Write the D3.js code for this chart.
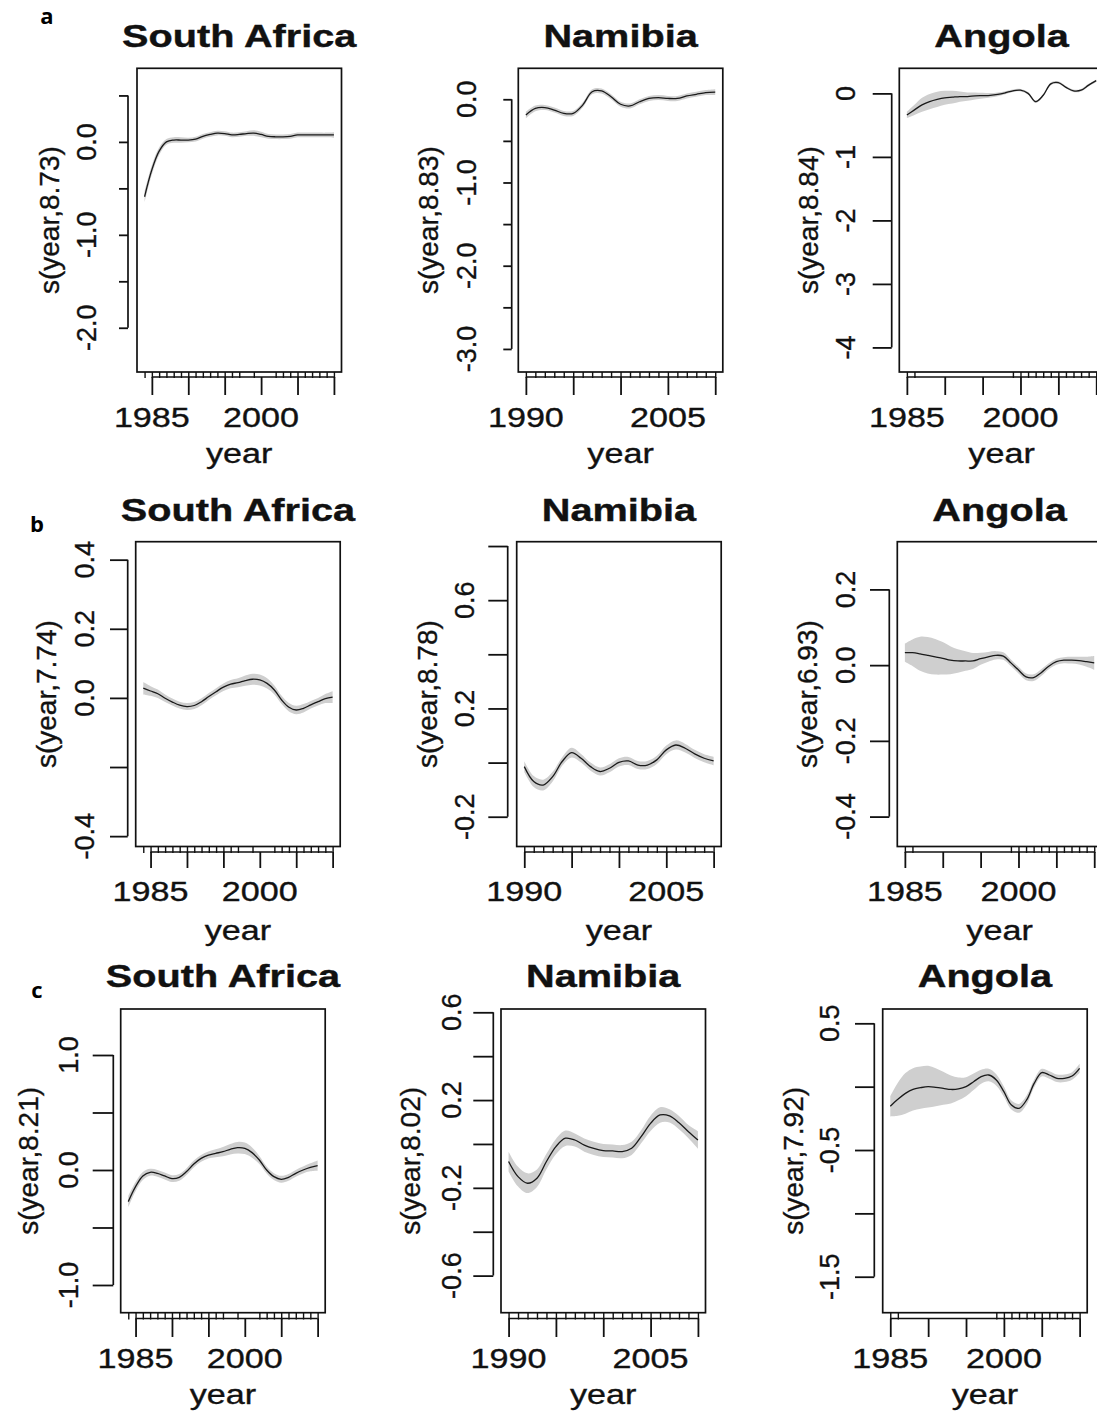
<!DOCTYPE html>
<html><head><meta charset="utf-8">
<script src="https://cdn.jsdelivr.net/npm/d3@7/dist/d3.min.js"></script>
<style>body{margin:0;background:#fff} svg{display:block}</style>
</head><body>
<script>
// ---------------- data ----------------
const saYears  = [1984,1985,1986,1987,1988,1989,1990,1991,1992,1993,1994,1995,1996,1997,1998,1999,2000,2001,2002,2003,2004,2005,2006,2007,2008,2009,2010];
const namYears = [1990,1991,1992,1993,1994,1995,1996,1997,1998,1999,2000,2001,2002,2003,2004,2005,2006,2007,2008,2009,2010];
const angYears = [1985,1986,1987,1988,1989,1990,1991,1992,1993,1994,1995,1996,1997,1998,1999,2000,2001,2002,2003,2004,2005,2006,2007,2008,2009,2010];

const saRug  = [1984,1985,1986,1987,1988,1989,1990,1991,1992,1993,1994,1995,1996,1997,1999,2002,2003,2004,2005,2006,2007,2008,2009,2010];
const namRug = [1990,1991,1992,1993,1994,1995,1996,1997,1998,1999,2000,2001,2002,2003,2004,2005,2006,2007,2008,2009,2010];
const angRug = [1985,1986,1999,2000,2001,2002,2003,2004,2005,2006,2007,2008,2009,2010];

const saXTicks  = [1985,1990,1995,2000,2005,2010];
const saXLabels = [1985,2000];
const namXTicks  = [1990,1995,2000,2005,2010];
const namXLabels = [1990,2005];
const angXTicks  = [1985,1990,1995,2000,2005,2010];
const angXLabels = [1985,2000];

const countries = ["South Africa","Namibia","Angola"];
const rowLetters = ["a","b","c"];

// row a
const aSaFit  = [-0.59,-0.30,-0.10,0.00,0.02,0.02,0.02,0.03,0.06,0.08,0.095,0.09,0.075,0.08,0.09,0.095,0.08,0.06,0.055,0.055,0.06,0.075,0.075,0.075,0.075,0.075,0.075];
const aSaBand = [0.06,0.05,0.04,0.03,0.03,0.03,0.025,0.025,0.025,0.025,0.025,0.025,0.025,0.025,0.025,0.03,0.03,0.025,0.025,0.025,0.025,0.025,0.025,0.025,0.025,0.025,0.03];
const aNamFit  = [-0.19,-0.11,-0.10,-0.13,-0.17,-0.17,-0.07,0.09,0.10,0.03,-0.06,-0.08,-0.03,0.01,0.02,0.01,0.01,0.04,0.06,0.08,0.085];
const aNamBand = [0.04,0.035,0.03,0.03,0.03,0.03,0.03,0.03,0.03,0.03,0.03,0.03,0.03,0.03,0.03,0.03,0.03,0.03,0.03,0.03,0.035];
const aAngFit  = [-0.34,-0.26,-0.18,-0.13,-0.095,-0.07,-0.06,-0.05,-0.05,-0.04,-0.035,-0.03,-0.015,0.01,0.04,0.05,0.0,-0.13,-0.03,0.15,0.17,0.095,0.04,0.05,0.13,0.20];
const aAngBand = [0.05,0.08,0.11,0.12,0.12,0.11,0.10,0.08,0.065,0.055,0.045,0.035,0.03,0.025,0.02,0.02,0.02,0.02,0.02,0.02,0.02,0.02,0.02,0.02,0.02,0.02];
// row b
const bSaFit  = [0.028,0.020,0.012,-0.001,-0.012,-0.021,-0.025,-0.022,-0.011,0.004,0.018,0.031,0.040,0.044,0.050,0.054,0.052,0.042,0.023,-0.006,-0.027,-0.035,-0.030,-0.020,-0.011,-0.002,0.002];
const bSaBand = [0.018,0.014,0.012,0.011,0.01,0.01,0.01,0.01,0.01,0.01,0.01,0.011,0.012,0.013,0.015,0.016,0.016,0.015,0.013,0.012,0.012,0.012,0.012,0.011,0.011,0.013,0.017];
const bNamFit  = [-0.015,-0.070,-0.083,-0.052,0.004,0.037,0.016,-0.015,-0.033,-0.021,0.001,0.006,-0.009,-0.009,0.010,0.047,0.065,0.053,0.032,0.016,0.006];
const bNamBand = [0.02,0.02,0.02,0.018,0.016,0.018,0.016,0.015,0.015,0.015,0.015,0.015,0.015,0.015,0.015,0.016,0.017,0.016,0.015,0.015,0.016];
const bAngFit  = [0.033,0.033,0.030,0.026,0.022,0.018,0.013,0.011,0.011,0.011,0.017,0.022,0.026,0.024,0.006,-0.013,-0.031,-0.033,-0.020,-0.003,0.009,0.013,0.013,0.012,0.009,0.006];
const bAngBand = [0.024,0.035,0.045,0.048,0.047,0.043,0.037,0.031,0.026,0.021,0.016,0.013,0.011,0.010,0.009,0.009,0.009,0.009,0.009,0.008,0.008,0.008,0.009,0.010,0.013,0.018];
// row c
const cSaFit  = [-0.275,-0.145,-0.052,-0.020,-0.029,-0.052,-0.075,-0.064,-0.014,0.052,0.101,0.130,0.145,0.159,0.180,0.194,0.188,0.151,0.087,0.000,-0.058,-0.081,-0.064,-0.029,0.000,0.023,0.038];
const cSaBand = [0.05,0.04,0.035,0.03,0.03,0.03,0.03,0.03,0.03,0.03,0.03,0.03,0.035,0.04,0.045,0.05,0.05,0.045,0.035,0.03,0.03,0.03,0.03,0.03,0.03,0.035,0.045];
const cNamFit  = [-0.080,-0.149,-0.179,-0.156,-0.080,-0.012,0.026,0.018,-0.005,-0.020,-0.030,-0.032,-0.035,-0.020,0.033,0.094,0.132,0.128,0.097,0.056,0.018];
const cNamBand = [0.045,0.045,0.045,0.04,0.035,0.035,0.035,0.03,0.03,0.03,0.03,0.03,0.03,0.03,0.03,0.035,0.035,0.03,0.03,0.03,0.04];
const cAngFit  = [-0.155,-0.10,-0.053,-0.021,-0.008,0.0,-0.005,-0.013,-0.022,-0.018,0.0,0.039,0.079,0.092,0.053,-0.039,-0.145,-0.171,-0.105,0.026,0.111,0.092,0.066,0.066,0.084,0.145];
const cAngBand = [0.08,0.13,0.16,0.167,0.167,0.165,0.15,0.13,0.11,0.09,0.075,0.065,0.055,0.05,0.045,0.04,0.035,0.035,0.035,0.03,0.03,0.03,0.03,0.03,0.03,0.035];

// y axes: ticks, labelled ticks, edf in label, axis limits at the box edges
const yTicksA = [[0.5,0,-0.5,-1,-1.5,-2],[0,-0.5,-1,-1.5,-2,-2.5,-3],[0,-1,-2,-3,-4]];
const yLabelsA = [[0,-1,-2],[0,-1,-2,-3],[0,-1,-2,-3,-4]];
const yTicksB = [[0.4,0.2,0,-0.2,-0.4],[0.8,0.6,0.4,0.2,0,-0.2],[0.2,0,-0.2,-0.4]];
const yLabelsB = [[0.4,0.2,0,-0.4],[0.6,0.2,-0.2],[0.2,0,-0.2,-0.4]];
const yTicksC = [[1,0.5,0,-0.5,-1],[0.6,0.4,0.2,0,-0.2,-0.4,-0.6],[0.5,0,-0.5,-1,-1.5]];
const yLabelsC = [[1,0,-1],[0.6,0.2,-0.2,-0.6],[0.5,-0.5,-1.5]];
const edfA = ["8.73","8.83","8.84"], edfB = ["7.74","8.78","6.93"], edfC = ["8.21","8.02","7.92"];
const yLimA = [[-2.476,0.792],[-3.277,0.372],[-4.387,0.395]];
const yLimB = [[-0.430,0.452],[-0.310,0.816],[-0.479,0.326]];
const yLimC = [[-1.241,1.400],[-0.769,0.615],[-1.784,0.613]];

// ---------------- layout ----------------
const W = 1097, H = 1413, BOXW = 204.5;
const rowLayout = [
  {top:68.3,  bottom:372,    axisY:377,    tickEnd:395, labelBase:427,  yearBase:463,  titleBase:47,  letterX:47, letterBase:24},
  {top:541.7, bottom:846.5,  axisY:852,    tickEnd:868, labelBase:901,  yearBase:940,  titleBase:521, letterX:37, letterBase:532},
  {top:1009,  bottom:1312.7, axisY:1318.5, tickEnd:1337,labelBase:1368, yearBase:1404, titleBase:987, letterX:37, letterBase:998}
];
const colLayout = [
  [{left:137,   yAxisX:128,   yTickX:119,   yLabX:86.7, yTitleX:49.3},
   {left:518.3, yAxisX:511.7, yTickX:503.3, yLabX:466.7,yTitleX:428.3},
   {left:899.3, yAxisX:891.7, yTickX:872.7, yLabX:846,  yTitleX:808.3}],
  [{left:135.7, yAxisX:127.7, yTickX:110,   yLabX:85,   yTitleX:46},
   {left:516.7, yAxisX:507.7, yTickX:488.3, yLabX:465,  yTitleX:426.7},
   {left:897.3, yAxisX:889.3, yTickX:870,   yLabX:846,  yTitleX:806.7}],
  [{left:120.7, yAxisX:113.3, yTickX:92.7,  yLabX:68.3, yTitleX:28.3},
   {left:501,   yAxisX:493.3, yTickX:473.3, yLabX:451.7,yTitleX:410},
   {left:882.7, yAxisX:874.3, yTickX:855,   yLabX:830,  yTitleX:793.3}]
];
const FONT = "'Liberation Sans', Arial, Helvetica, sans-serif";
const SX = 1.22;  // horizontal stretch of the original raster text

// ---------------- assemble panels ----------------
const countryYears = [saYears, namYears, angYears];
const countryRug = [saRug, namRug, angRug];
const countryXTicks = [saXTicks, namXTicks, angXTicks];
const countryXLabels = [saXLabels, namXLabels, angXLabels];
const fits = [[aSaFit,aNamFit,aAngFit],[bSaFit,bNamFit,bAngFit],[cSaFit,cNamFit,cAngFit]];
const bands = [[aSaBand,aNamBand,aAngBand],[bSaBand,bNamBand,bAngBand],[cSaBand,cNamBand,cAngBand]];
const yTicks = [yTicksA,yTicksB,yTicksC], yLabels=[yLabelsA,yLabelsB,yLabelsC];
const edfs = [edfA,edfB,edfC], yLims=[yLimA,yLimB,yLimC];

const svg = d3.select("body").append("svg").attr("width",W).attr("height",H)
  .attr("viewBox",`0 0 ${W} ${H}`).style("font-family",FONT);

function hText(g, x, y, txt, size, weight, sx){
  g.append("text").attr("transform",`translate(${x},${y}) scale(${sx},1)`)
    .attr("text-anchor","middle").attr("font-size",size).attr("font-weight",weight||"normal")
    .attr("fill","#111").attr("stroke","#111").attr("stroke-width",weight==="bold"?0.4:0.35)
    .text(txt);
}
function vText(g, x, y, txt, size){
  g.append("text").attr("transform",`translate(${x},${y}) rotate(-90)`)
    .attr("text-anchor","middle").attr("dy","0.35em").attr("font-size",size)
    .attr("fill","#111").attr("stroke","#111").attr("stroke-width",0.35).text(txt);
}

for (let r=0;r<3;r++){
  const RL = rowLayout[r];
  // panel letter
  svg.append("text").attr("x",RL.letterX).attr("y",RL.letterBase).attr("text-anchor","middle")
    .attr("font-family","'Open Sans', 'Liberation Sans', sans-serif").attr("font-weight","bold")
    .attr("font-size",22).attr("fill","#000").text(rowLetters[r]);

  for (let c=0;c<3;c++){
    const L = colLayout[r][c];
    const years = countryYears[c], fit = fits[r][c], band = bands[r][c];
    const g = svg.append("g");
    const ext = d3.extent(years), pad = 0.04*(ext[1]-ext[0]);
    const x = d3.scaleLinear().domain([ext[0]-pad, ext[1]+pad]).range([L.left, L.left+BOXW]);
    const y = d3.scaleLinear().domain(yLims[r][c]).range([RL.bottom, RL.top]);
    const rows = years.map((yr,i)=>({yr, f:fit[i], b:band[i]}));

    const clipId = `clip${r}${c}`;
    svg.append("clipPath").attr("id",clipId).append("rect")
      .attr("x",L.left).attr("y",RL.top).attr("width",BOXW).attr("height",RL.bottom-RL.top);
    const plot = g.append("g").attr("clip-path",`url(#${clipId})`);
    const curve = d3.curveCatmullRom.alpha(0.5);
    plot.append("path").datum(rows)
      .attr("d", d3.area().x(d=>x(d.yr)).y0(d=>y(d.f-d.b)).y1(d=>y(d.f+d.b)).curve(curve))
      .attr("fill","#cfcfcf").attr("stroke","none");
    plot.append("path").datum(rows)
      .attr("d", d3.line().x(d=>x(d.yr)).y(d=>y(d.f)).curve(curve))
      .attr("fill","none").attr("stroke","#1a1a1a").attr("stroke-width",1.3);

    // box
    g.append("rect").attr("x",L.left).attr("y",RL.top).attr("width",BOXW).attr("height",RL.bottom-RL.top)
      .attr("fill","none").attr("stroke","#111").attr("stroke-width",1.7);

    // rug
    const rugAxis = d3.axisBottom(x).tickValues(countryRug[c]).tickSize(RL.axisY+1-RL.bottom).tickFormat("");
    const rg = g.append("g").attr("transform",`translate(0,${RL.bottom})`).call(rugAxis);
    rg.select(".domain").remove();
    rg.selectAll(".tick line").attr("stroke","#111").attr("stroke-width",1.4);

    // x axis
    const xt = countryXTicks[c];
    const xAxis = d3.axisBottom(x).tickValues(xt).tickSize(RL.tickEnd-RL.axisY).tickFormat("");
    const xg = g.append("g").attr("transform",`translate(0,${RL.axisY})`).call(xAxis);
    xg.select(".domain").remove();
    xg.selectAll(".tick line").attr("stroke","#111").attr("stroke-width",1.8);
    g.append("line").attr("x1",x(xt[0])).attr("x2",x(xt[xt.length-1])).attr("y1",RL.axisY).attr("y2",RL.axisY)
      .attr("stroke","#111").attr("stroke-width",1.7);
    countryXLabels[c].forEach(v=>hText(g, x(v), RL.labelBase, String(v), 28, "normal", SX));
    hText(g, L.left+BOXW/2, RL.yearBase, "year", 28, "normal", SX);

    // y axis
    const yt = yTicks[r][c];
    const yAxis = d3.axisLeft(y).tickValues(yt).tickSize(L.yAxisX-L.yTickX).tickFormat("");
    const yg = g.append("g").attr("transform",`translate(${L.yAxisX},0)`).call(yAxis);
    yg.select(".domain").remove();
    yg.selectAll(".tick line").attr("stroke","#111").attr("stroke-width",1.8);
    g.append("line").attr("x1",L.yAxisX).attr("x2",L.yAxisX).attr("y1",y(yt[0])).attr("y2",y(yt[yt.length-1]))
      .attr("stroke","#111").attr("stroke-width",1.7);
    const intLabels = (r===0 && c===2);
    yLabels[r][c].forEach(v=>vText(g, L.yLabX, y(v), intLabels ? String(v) : v.toFixed(1), 27));
    vText(g, L.yTitleX, (RL.top+RL.bottom)/2, `s(year,${edfs[r][c]})`, 28);

    // title
    hText(g, L.left+BOXW/2, RL.titleBase, countries[c], 32, "bold", 1.24);
  }
}
</script>
</body></html>
